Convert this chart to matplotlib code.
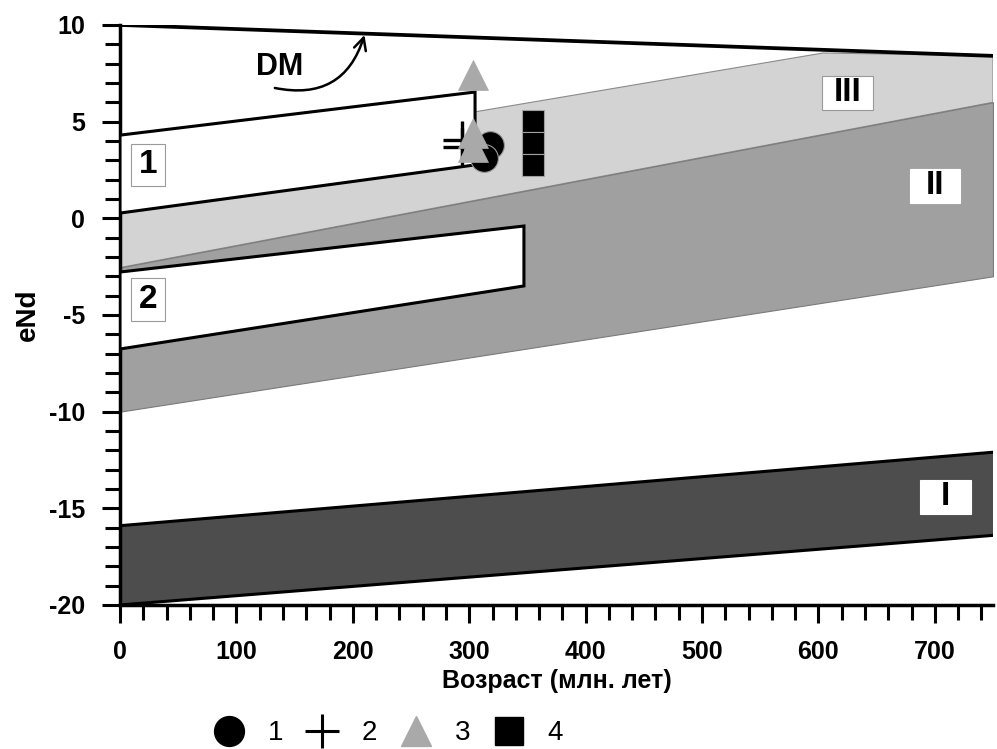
import matplotlib

matplotlib.use("Agg")
import matplotlib.pyplot as plt
from matplotlib.lines import Line2D
from matplotlib.patches import Polygon, Rectangle

plt.rcParams["font.family"] = ["Liberation Sans", "DejaVu Sans"]
plt.rcParams["axes.unicode_minus"] = False

# evolution lines, age in Ma -> eNd
age = [0, 750]
dm_line = [10.0, 8.4]
field_I_top = [-15.9, -12.1]
field_I_bot = [-20.0, -16.4]
field_II_top = [-2.55, 6.0]
field_II_bot = [-10.0, -3.0]
field_III_top_age = [0, 604, 750]
field_III_top = [2.4, 8.55, 8.4]

# reference rectangles 1 and 2
box1_age = [0, 305]
box1_top = [4.3, 6.53]
box1_bot = [0.27, 2.76]
box2_age = [0, 347]
box2_top = [-2.78, -0.4]
box2_bot = [-6.76, -3.5]

# samples
circ_age = [318, 313]
circ_end = [3.79, 3.12]
cross_age = [294, 294]
cross_end = [4.05, 3.69]
tri_age = [303, 303, 303]
tri_end = [7.41, 4.41, 3.69]
sq_age = [355, 355, 355]
sq_end = [5.03, 3.9, 2.76]

fig = plt.figure(figsize=(9.97, 7.49), dpi=100)
ax = fig.add_axes([0.1204, 0.1923, 0.8756, 0.7744])

# field III (light gray) – bounded by II top below and upper line / DM above
iii_poly = [(age[0], field_II_top[0]), (age[1], field_II_top[1])]
iii_poly += list(zip(field_III_top_age[::-1], field_III_top[::-1]))
ax.add_patch(Polygon(iii_poly, closed=True, facecolor="#d3d3d3",
                     edgecolor="#8a8a8a", lw=0.8, zorder=1))

# field II
ax.fill_between(age, field_II_bot, field_II_top, facecolor="#a0a0a0",
                edgecolor="#7a7a7a", lw=0.8, zorder=2)

# field I
ax.fill_between(age, field_I_bot, field_I_top, facecolor="#4d4d4d",
                edgecolor="none", zorder=2)
ax.plot(age, field_I_top, color="black", lw=2.2, zorder=3)
ax.plot(age, field_I_bot, color="black", lw=2.2, zorder=3)

# DM
ax.plot(age, dm_line, color="black", lw=2.7, zorder=4, solid_capstyle="butt")

# boxes 1 and 2
for b_age, b_top, b_bot in [(box1_age, box1_top, box1_bot),
                            (box2_age, box2_top, box2_bot)]:
    pts = [(b_age[0], b_bot[0]), (b_age[1], b_bot[1]),
           (b_age[1], b_top[1]), (b_age[0], b_top[0])]
    ax.add_patch(Polygon(pts, closed=True, facecolor="white",
                         edgecolor="black", lw=2.2, zorder=3))

# samples
ax.plot(cross_age, cross_end, ls="none", marker="+", ms=28, mew=2.4,
        color="black", zorder=5)
ax.plot(circ_age, circ_end, ls="none", marker="o", ms=20, mfc="black",
        mec="#9a9a9a", mew=0.8, zorder=6)
ax.plot(tri_age, tri_end, ls="none", marker="^", ms=21, mfc="#a9a9a9",
        mec="#a9a9a9", mew=0.5, zorder=7)
ax.plot(sq_age, sq_end, ls="none", marker="s", ms=16, mfc="black",
        mec="#a0a0a0", mew=0.8, zorder=7)


def label_box(x, y, text, w, h, edge):
    ax.add_patch(Rectangle((x - w / 2, y - h / 2), w, h, facecolor="white",
                           edgecolor=edge, lw=0.8, zorder=8))
    ax.text(x, y, text, ha="center", va="center", fontsize=24,
            fontweight="bold", zorder=9)


label_box(24, 2.76, "1", 30, 2.2, "#9a9a9a")
label_box(24, -4.2, "2", 30, 2.2, "#9a9a9a")
label_box(625, 6.5, "III", 44.5, 1.75, "#9a9a9a")
label_box(700, 1.67, "II", 43, 1.75, "white")
label_box(709, -14.4, "I", 44, 1.75, "white")

# DM label and arrow
ax.text(137, 7.83, "DM", ha="center", va="center", fontsize=22,
        fontweight="bold", zorder=9)
ax.annotate("", xy=(210, 9.48), xytext=(133, 6.74),
            arrowprops=dict(arrowstyle="->", lw=1.8, color="black",
                            connectionstyle="arc3,rad=0.45",
                            mutation_scale=22, shrinkA=0, shrinkB=0),
            zorder=9)

ax.set_xlim(0, 750)
ax.set_ylim(-20, 10)
ax.set_xticks(range(0, 701, 100))
ax.set_xticks(range(0, 751, 20), minor=True)
ax.set_yticks(range(-20, 11, 5))
ax.set_yticks(range(-20, 11, 1), minor=True)
ax.spines["top"].set_visible(False)
ax.spines["right"].set_visible(False)
ax.spines["left"].set_linewidth(2.5)
ax.spines["bottom"].set_linewidth(2.5)
ax.tick_params(which="major", length=13, width=2.2, labelsize=18, pad=12)
ax.tick_params(which="minor", length=11, width=2.2)
for lab in ax.get_xticklabels() + ax.get_yticklabels():
    lab.set_fontweight("bold")

ax.set_xlabel("Возраст (млн. лет)", fontsize=18, fontweight="bold", labelpad=4)
ax.set_ylabel("eNd", fontsize=20, fontweight="bold", labelpad=6)

handles = [
    Line2D([], [], ls="none", marker="o", ms=21.5, mfc="black", mec="black"),
    Line2D([], [], ls="none", marker="+", ms=24, mew=2.2, color="black"),
    Line2D([], [], ls="none", marker="^", ms=22, mfc="#a9a9a9", mec="#a9a9a9"),
    Line2D([], [], ls="none", marker="s", ms=20, mfc="black", mec="black"),
]
fig.legend(handles, ["1", "2", "3", "4"], loc="center",
           bbox_to_anchor=(0.389, 0.021), ncol=4, frameon=False, fontsize=20,
           handlelength=1.2, handletextpad=0.8, columnspacing=0.8)

fig.savefig("out.png", dpi=100)
